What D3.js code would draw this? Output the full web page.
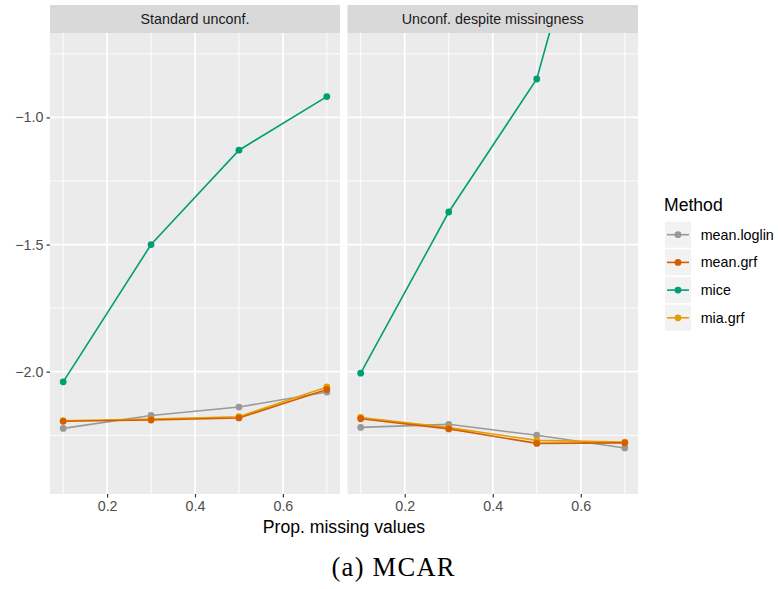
<!DOCTYPE html>
<html>
<head>
<meta charset="utf-8">
<script src="https://cdn.jsdelivr.net/npm/d3@7"></script>
<style>
  html, body { margin: 0; padding: 0; background: #ffffff; }
  svg { display: block; }
</style>
</head>
<body>
<svg id="chart" width="778" height="589"></svg>
<script>
// ---- data ----
const propMissing = [0.1, 0.3, 0.5, 0.7];
const panels = ["Standard unconf.", "Unconf. despite missingness"];
const methods = ["mean.loglin", "mean.grf", "mice", "mia.grf"];
const methodColors = ["#999999", "#D55E00", "#009E73", "#E69F00"];

// Standard unconf.
const meanLoglinStd = [-2.223, -2.172, -2.139, -2.080];
const meanGrfStd    = [-2.195, -2.190, -2.182, -2.070];
const miceStd       = [-2.040, -1.500, -1.129, -0.918];
const miaGrfStd     = [-2.193, -2.186, -2.177, -2.060];
// Unconf. despite missingness
const meanLoglinMis = [-2.219, -2.207, -2.250, -2.300];
const meanGrfMis    = [-2.185, -2.225, -2.282, -2.280];
const miceMis       = [-2.006, -1.372, -0.849, 0.40];
const miaGrfMis     = [-2.180, -2.220, -2.270, -2.277];

const xTicks = [0.2, 0.4, 0.6];
const xMinor = [0.1, 0.3, 0.5, 0.7];
const yTicks = [-2.0, -1.5, -1.0];
const yMinor = [-2.25, -1.75, -1.25, -0.75];
const xDomain = [0.07, 0.73];
const yDomain = [-2.481, -0.668];

const panelData = [
  {"mean.loglin": meanLoglinStd, "mean.grf": meanGrfStd, "mice": miceStd, "mia.grf": miaGrfStd},
  {"mean.loglin": meanLoglinMis, "mean.grf": meanGrfMis, "mice": miceMis, "mia.grf": miaGrfMis}
];

// ---- layout ----
const svg = d3.select("#chart");
const font = "'Liberation Sans', Arial, Helvetica, sans-serif";
const panelX = [[50, 340], [347.5, 638]];
const panelTop = 33, panelBottom = 494, stripTop = 5;
const color = d3.scaleOrdinal().domain(methods).range(methodColors);
const y = d3.scaleLinear().domain(yDomain).range([panelBottom, panelTop]);
const drawOrder = ["mean.loglin", "mice", "mia.grf", "mean.grf"];

panels.forEach((name, i) => {
  const [x0, x1] = panelX[i];
  const x = d3.scaleLinear().domain(xDomain).range([x0, x1]);
  const g = svg.append("g");

  // strip
  g.append("rect").attr("x", x0).attr("y", stripTop).attr("width", x1 - x0)
    .attr("height", panelTop - stripTop).attr("fill", "#D9D9D9");
  g.append("text").attr("x", (x0 + x1) / 2).attr("y", 24.3)
    .attr("text-anchor", "middle").attr("font-family", font).attr("font-size", 14.3)
    .attr("fill", "#1A1A1A").text(name);

  // panel background
  g.append("rect").attr("x", x0).attr("y", panelTop).attr("width", x1 - x0)
    .attr("height", panelBottom - panelTop).attr("fill", "#EBEBEB");

  // minor grid
  g.selectAll(".ymin").data(yMinor).enter().append("line")
    .attr("x1", x0).attr("x2", x1).attr("y1", d => y(d)).attr("y2", d => y(d))
    .attr("stroke", "#ffffff").attr("stroke-width", 0.9);
  g.selectAll(".xmin").data(xMinor).enter().append("line")
    .attr("y1", panelTop).attr("y2", panelBottom).attr("x1", d => x(d)).attr("x2", d => x(d))
    .attr("stroke", "#ffffff").attr("stroke-width", 0.9);
  // major grid
  g.selectAll(".ymaj").data(yTicks).enter().append("line")
    .attr("x1", x0).attr("x2", x1).attr("y1", d => y(d)).attr("y2", d => y(d))
    .attr("stroke", "#ffffff").attr("stroke-width", 1.8);
  g.selectAll(".xmaj").data(xTicks).enter().append("line")
    .attr("y1", panelTop).attr("y2", panelBottom).attr("x1", d => x(d)).attr("x2", d => x(d))
    .attr("stroke", "#ffffff").attr("stroke-width", 1.8);

  // x axis
  const xAxis = d3.axisBottom(x).tickValues(xTicks).tickSize(3.5).tickPadding(3)
    .tickFormat(d3.format(".1f"));
  const ax = g.append("g").attr("transform", `translate(0,${panelBottom})`).call(xAxis);
  ax.select(".domain").remove();
  ax.selectAll(".tick line").attr("stroke", "#333333").attr("stroke-width", 1.2);
  ax.selectAll(".tick text").attr("font-family", font).attr("font-size", 14.3)
    .attr("fill", "#4D4D4D");

  // y axis only on first panel
  if (i === 0) {
    const yAxis = d3.axisLeft(y).tickValues(yTicks).tickSize(3.5).tickPadding(3)
      .tickFormat(d3.format(".1f"));
    const ay = g.append("g").attr("transform", `translate(${x0},0)`).call(yAxis);
    ay.select(".domain").remove();
    ay.selectAll(".tick line").attr("stroke", "#333333").attr("stroke-width", 1.2);
    ay.selectAll(".tick text").attr("font-family", font).attr("font-size", 14.3)
      .attr("fill", "#4D4D4D");
  }

  // clip
  const clipId = "clip" + i;
  svg.append("clipPath").attr("id", clipId).append("rect")
    .attr("x", x0).attr("y", panelTop).attr("width", x1 - x0).attr("height", panelBottom - panelTop);
  const plot = g.append("g").attr("clip-path", `url(#${clipId})`);

  const line = d3.line().x((d, k) => x(propMissing[k])).y(d => y(d));
  drawOrder.forEach(m => {
    plot.append("path").datum(panelData[i][m]).attr("d", line)
      .attr("fill", "none").attr("stroke", color(m)).attr("stroke-width", 1.6);
  });
  drawOrder.forEach(m => {
    plot.selectAll(null).data(panelData[i][m]).enter().append("circle")
      .attr("cx", (d, k) => x(propMissing[k])).attr("cy", d => y(d)).attr("r", 3.4)
      .attr("fill", color(m));
  });
});

// axis title
svg.append("text").attr("x", (panelX[0][0] + panelX[1][1]) / 2).attr("y", 533)
  .attr("text-anchor", "middle").attr("font-family", font).attr("font-size", 17.6)
  .attr("fill", "#000000").text("Prop. missing values");

// legend
const lg = svg.append("g");
lg.append("text").attr("x", 664).attr("y", 210.5).attr("font-family", font)
  .attr("font-size", 17.6).attr("fill", "#000000").text("Method");
methods.forEach((m, k) => {
  const ky = 221.7 + k * 27.7;
  lg.append("rect").attr("x", 665).attr("y", ky).attr("width", 26).attr("height", 26)
    .attr("fill", "#F2F2F2");
  lg.append("line").attr("x1", 667).attr("x2", 689).attr("y1", ky + 13).attr("y2", ky + 13)
    .attr("stroke", color(m)).attr("stroke-width", 1.6);
  lg.append("circle").attr("cx", 678).attr("cy", ky + 13).attr("r", 3.4).attr("fill", color(m));
  lg.append("text").attr("x", 700.7).attr("y", ky + 18).attr("font-family", font)
    .attr("font-size", 14.3).attr("fill", "#000000").text(m);
});

// caption
svg.append("text").attr("x", 393).attr("y", 576).attr("text-anchor", "middle")
  .attr("font-family", "'Liberation Serif', 'Times New Roman', serif").attr("font-size", 26.5)
  .attr("textLength", 123).attr("lengthAdjust", "spacing")
  .attr("fill", "#000000").text("(a) MCAR");
</script>
</body>
</html>
